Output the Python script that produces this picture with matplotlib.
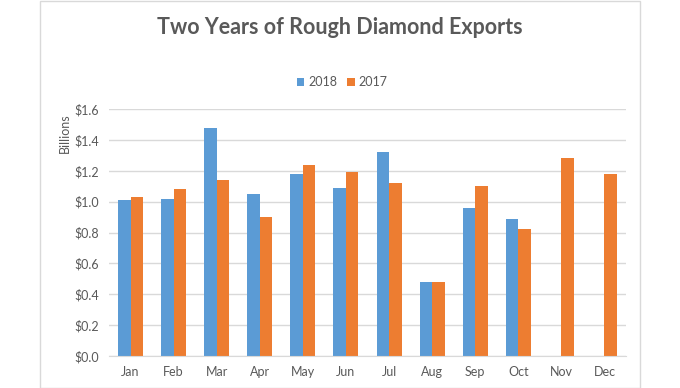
import numpy as np
import matplotlib.pyplot as plt
from matplotlib.patches import Rectangle

months = ['Jan', 'Feb', 'Mar', 'Apr', 'May', 'Jun', 'Jul', 'Aug', 'Sep', 'Oct', 'Nov', 'Dec']
exports_2018 = [1.01, 1.02, 1.48, 1.05, 1.18, 1.09, 1.32, 0.48, 0.96, 0.89, np.nan, np.nan]
exports_2017 = [1.03, 1.08, 1.14, 0.90, 1.24, 1.19, 1.12, 0.48, 1.10, 0.82, 1.28, 1.18]
yticks = [0.0, 0.2, 0.4, 0.6, 0.8, 1.0, 1.2, 1.4, 1.6]

BLUE = '#5b9bd5'
ORANGE = '#ed7d31'
GRAY_TXT = '#595959'
GRID = '#d9d9d9'

plt.rcParams['font.family'] = ['Lato', 'DejaVu Sans']

fig = plt.figure(figsize=(6.8, 3.88), dpi=100)
fig.patch.set_facecolor('white')

# chart frame
fig.add_artist(Rectangle((39.5 / 680, 0.5 / 388), 600 / 680, 386.5 / 388,
                         transform=fig.transFigure, fill=False,
                         edgecolor=GRID, lw=1.0))

ax = fig.add_axes([109 / 680, 32 / 388, 517 / 680, 247 / 388])
x = np.arange(len(months))
w = 0.29
ax.bar(x - w / 2, exports_2018, width=w, color=BLUE, label='2018', zorder=3)
ax.bar(x + w / 2, exports_2017, width=w, color=ORANGE, label='2017', zorder=3)

ax.set_xlim(-0.5, len(months) - 0.5)
ax.set_ylim(0, 1.6)
ax.set_yticks(yticks)
ax.set_yticklabels([f'${v:.1f}' for v in yticks], fontsize=9, color=GRAY_TXT)
ax.set_xticks(x)
ax.set_xticklabels(months, fontsize=9, color=GRAY_TXT)
ax.tick_params(axis='both', length=0)
ax.tick_params(axis='y', pad=7)
ax.tick_params(axis='x', pad=7)
ax.grid(axis='y', color=GRID, lw=1.0, zorder=0)
for s in ['top', 'right', 'left']:
    ax.spines[s].set_visible(False)
ax.spines['bottom'].set_color(GRID)
ax.spines['bottom'].set_zorder(4)

fig.text(65 / 680, 1 - 133 / 388, 'Billions', rotation=90, ha='center', va='center',
         fontsize=9, color=GRAY_TXT)

fig.text(340 / 680, 1 - 28 / 388, 'Two Years of Rough Diamond Exports',
         ha='center', va='center', fontsize=15.5, fontweight='bold', color=GRAY_TXT)

fig.legend(loc='center', bbox_to_anchor=(342 / 680, 1 - 82 / 388), ncol=2,
           frameon=False, fontsize=9, labelcolor=GRAY_TXT, handlelength=0.6,
           handleheight=0.6, handletextpad=0.3, columnspacing=0.8)

plt.savefig('out.png', dpi=100)
